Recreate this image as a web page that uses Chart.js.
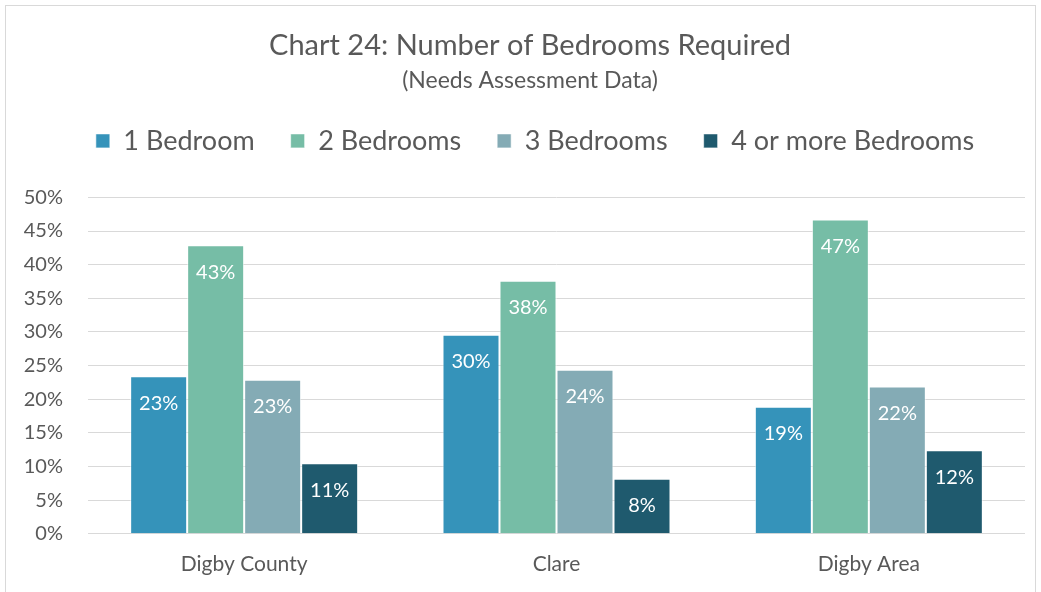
<!DOCTYPE html>
<html>
<head>
<meta charset="utf-8">
<script src="https://cdn.jsdelivr.net/npm/chart.js@4"></script>
<style>
  html, body { margin: 0; padding: 0; background: #fff; overflow: hidden; }
  #frame { position: absolute; left: 5px; top: 5px; width: 1031px; height: 600px; border: 1px solid #d9d9d9; box-sizing: border-box; }
  #wrap { position: absolute; left: 0; top: 0; width: 1029px; height: 587px; }
</style>
</head>
<body>
<div id="frame"><div id="wrap"><canvas id="chart"></canvas></div></div>
<script>
// Chart data
const areas = ['Digby County', 'Clare', 'Digby Area'];
const oneBedroom = [23.4, 29.6, 18.9];
const twoBedrooms = [42.9, 37.6, 46.7];
const threeBedrooms = [22.9, 24.4, 21.9];
const fourPlusBedrooms = [10.5, 8.2, 12.4];
const seriesNames = ['1 Bedroom', '2 Bedrooms', '3 Bedrooms', '4 or more Bedrooms'];
const seriesColors = ['#3593ba', '#76bda6', '#84abb5', '#1f5a6e'];

const font = 'Lato, "Open Sans", sans-serif';
const grey = '#595959';

// draw the value inside the top of each bar, like the spreadsheet labels
const barLabels = {
  id: 'barLabels',
  afterDatasetsDraw(chart) {
    const ctx = chart.ctx;
    ctx.save();
    ctx.fillStyle = '#ffffff';
    ctx.font = '20px ' + font;
    ctx.textAlign = 'center';
    ctx.textBaseline = 'middle';
    chart.data.datasets.forEach((ds, i) => {
      chart.getDatasetMeta(i).data.forEach((bar, j) => {
        ctx.fillText(Math.round(ds.data[j]) + '%', bar.x, bar.y + 27);
      });
    });
    ctx.restore();
  }
};

// extra room under the legend, before the plot starts
const legendGap = {
  id: 'legendGap',
  beforeInit(chart) {
    const origFit = chart.legend.fit;
    chart.legend.fit = function () {
      origFit.call(this);
      this.height += 33;
    };
  }
};

// the title and legend sit a little right of the canvas centre in the original
const headerShift = {
  id: 'headerShift',
  afterLayout(chart) {
    chart.boxes.forEach(box => {
      if (box.options && box.options.position === 'top' && !box.axis) {
        const dx = box === chart.legend ? 18 : 13;
        box.left += dx;
        box.right += dx;
      }
    });
  }
};

const allSeries = [oneBedroom, twoBedrooms, threeBedrooms, fourPlusBedrooms];

new Chart(document.getElementById('chart'), {
  type: 'bar',
  data: {
    labels: areas,
    datasets: allSeries.map((values, i) => ({
      label: seriesNames[i],
      data: values,
      backgroundColor: seriesColors[i],
      borderColor: 'rgba(255,255,255,0.6)',
      borderWidth: 1,
      categoryPercentage: 0.73,
      barPercentage: 1.0
    }))
  },
  options: {
    responsive: true,
    maintainAspectRatio: false,
    animation: false,
    layout: { padding: { left: 3, right: 10, top: 0, bottom: 6 } },
    plugins: {
      title: {
        display: true,
        text: 'Chart 24: Number of Bedrooms Required',
        color: grey,
        font: { family: font, size: 29, weight: 'normal' },
        padding: { top: 22, bottom: 4 }
      },
      subtitle: {
        display: true,
        text: '(Needs Assessment Data)',
        color: grey,
        font: { family: font, size: 23, weight: 'normal' },
        padding: { top: 0, bottom: -3 }
      },
      legend: {
        display: true,
        labels: {
          color: grey,
          font: { family: font, size: 27 },
          boxWidth: 14,
          boxHeight: 14,
          padding: 36
        }
      },
      tooltip: { enabled: false }
    },
    scales: {
      x: {
        grid: { display: false },
        border: { display: false },
        ticks: { color: grey, font: { family: font, size: 21 }, padding: 10 }
      },
      y: {
        min: 0,
        max: 50,
        afterFit: scale => { scale.width = 79; },
        ticks: {
          stepSize: 5,
          color: grey,
          font: { family: font, size: 20 },
          padding: 25,
          callback: v => v + '%'
        },
        grid: { color: '#d9d9d9', lineWidth: 1, drawTicks: false },
        border: { display: false }
      }
    }
  },
  plugins: [barLabels, legendGap, headerShift]
});
</script>
</body>
</html>
